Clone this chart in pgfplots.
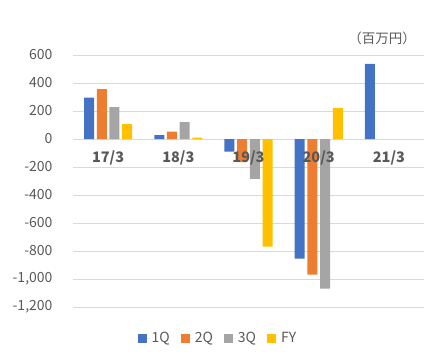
\documentclass[border=0pt]{standalone}
\usepackage{pgfplots}
\pgfplotsset{compat=1.18}
\usepackage{fontspec}
\setmainfont{Noto Sans CJK JP}
\definecolor{c1}{HTML}{4472C4}
\definecolor{c2}{HTML}{ED7D31}
\definecolor{c3}{HTML}{A5A5A5}
\definecolor{c4}{HTML}{FFC000}
\definecolor{txt}{HTML}{595959}
\definecolor{grd}{HTML}{D9D9D9}
\begin{document}
\begin{tikzpicture}
\path[use as bounding box] (0,0) rectangle (436pt,360pt);
\begin{axis}[
  at={(73pt,53pt)}, anchor=south west,
  scale only axis, width=351pt, height=252pt,
  ymin=-1200, ymax=600,
  xmin=-0.5, xmax=4.5,
  ytick={-1200,-1000,-800,-600,-400,-200,0,200,400,600},
  xtick=\empty,
  ymajorgrids, grid style={grd, line width=0.8pt},
  axis line style={draw=none},
  major tick length=0pt,
  ybar=2.7pt, bar width=10pt,
  /pgf/number format/assume math mode=true,
  /pgf/number format/1000 sep={,},
  yticklabel style={font=\fontsize{14}{16}\selectfont, text=txt, anchor=east, xshift=-17pt},
  legend columns=4,
  legend style={at={(0.413,-0.123)}, anchor=center, draw=none, fill=none,
    font=\fontsize{14}{16}\selectfont, text=txt,
    /tikz/every even column/.append style={column sep=9pt}},
  legend image code/.code={\fill[#1] (0pt,-4.5pt) rectangle (9pt,4.5pt); \path (0pt,0pt) -- (12pt,0pt);},
  clip=false,
]
\addplot[fill=c1, draw=none] coordinates {(0,295) (1,28) (2,-90) (3,-855) (4,536)};
\addplot[fill=c2, draw=none] coordinates {(0,357) (1,52) (2,-165) (3,-969)};
\addplot[fill=c3, draw=none] coordinates {(0,228) (1,121) (2,-285) (3,-1069)};
\addplot[fill=c4, draw=none] coordinates {(0,107) (1,10) (2,-769) (3,221)};
\legend{1Q,2Q,3Q,FY}
\foreach \i/\l in {0/17\slash3,1/18\slash3,2/19\slash3,3/20\slash3,4/21\slash3}{
  \edef\tmp{\noexpand\node[text=txt, font=\noexpand\fontsize{14.5}{16}\noexpand\selectfont\noexpand\bfseries] at (axis cs:\i,-136) {\l};}\tmp
}
\end{axis}
\node[text=txt, font=\fontsize{13.5}{15}\selectfont] at (382pt,322pt) {（百万円）};
\end{tikzpicture}
\end{document}
